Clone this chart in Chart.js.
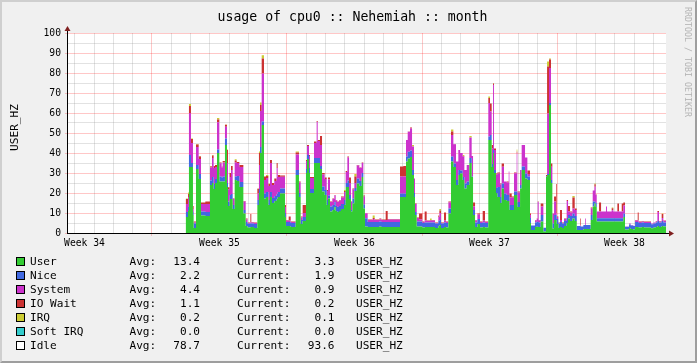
<!DOCTYPE html>
<html>
<head>
<meta charset="utf-8">
<script src="https://cdn.jsdelivr.net/npm/chart.js"></script>
<style>
  body { margin: 0; background: #f0f0f0; }
  #frame { position: relative; width: 697px; height: 363px; background: #f0f0f0; overflow: hidden; }
  #shade { position: absolute; left: 0; top: 0; width: 697px; height: 363px; box-sizing: border-box;
    border-top: 2px solid #cfcfcf; border-left: 2px solid #cfcfcf;
    border-right: 2px solid #9e9e9e; border-bottom: 2px solid #9e9e9e; }
  #chart { position: absolute; left: 0; top: 0; }
  .txt { position: absolute; font-family: "DejaVu Sans Mono", monospace; color: #000; white-space: pre; }
  .lg { font-size: 11.1px; line-height: 14px; }
  .box { position: absolute; width: 7px; height: 7px; border: 1px solid #000; }
</style>
</head>
<body>
<div id="frame">
  <div id="shade"></div>
  <canvas id="chart" width="697" height="363"></canvas>
  <div class="txt" style="left:0; width:705px; text-align:center; top:8.5px; font-size:13.2px; line-height:16px;">usage of cpu0 :: Nehemiah :: month</div>
  <div class="txt" style="left:692px; top:7px; font-size:8.3px; line-height:9px; color:#b4b4b4; transform:rotate(90deg); transform-origin:0 0;">RRDTOOL / TOBI OETIKER</div>
  <div id="legend"></div>
</div>
<script>
// time axis in hours, 0 = start of week 35
var hours = [41.9, 44.8, 46.0, 48.5, 51.0, 51.8, 54.8, 58.1, 61.0, 66.4,
  72.2, 74.7, 76.7, 78.4, 80.9, 83.8, 86.7, 87.9, 90.8, 93.3,
  94.6, 96.6, 98.3, 100.4, 102.9, 105.4, 108.7, 113.7, 116.6, 119.0,
  122.4, 123.6, 126.9, 131.1, 133.1, 134.4, 136.5, 139.4, 141.9, 144.8,
  146.8, 149.3, 152.2, 155.1, 156.4, 159.3, 165.5, 166.7, 170.1, 172.6,
  178.8, 182.9, 185.0, 187.5, 191.6, 192.9, 195.4, 196.6, 201.6, 204.9,
  206.2, 209.1, 211.6, 214.9, 217.4, 219.0, 221.5, 224.4, 226.9, 228.6,
  230.6, 232.7, 235.2, 238.9, 241.0, 243.1, 245.2, 247.6, 249.3, 251.8,
  254.7, 258.0, 260.9, 263.0, 265.1, 268.4, 274.6, 277.1, 282.9, 285.4,
  290.8, 293.3, 308.6, 312.8, 316.1, 318.2, 321.1, 323.6, 326.0, 327.3,
  329.4, 332.3, 336.4, 339.3, 341.8, 346.0, 348.0, 352.2, 356.3, 357.6,
  359.6, 363.4, 365.9, 368.8, 372.1, 375.0, 378.3, 381.2, 383.3, 386.6,
  388.7, 391.6, 394.9, 397.8, 399.5, 402.0, 404.9, 408.2, 411.5, 414.4,
  418.5, 420.6, 422.7, 424.4, 425.6, 428.1, 429.7, 433.1, 435.1, 438.0,
  441.4, 443.9, 444.7, 447.6, 450.5, 453.8, 454.6, 458.0, 460.0, 464.2,
  467.1, 470.4, 471.6, 476.6, 478.7, 479.9, 481.2, 483.7, 487.0, 490.3,
  491.6, 494.0, 496.5, 498.2, 500.3, 502.7, 503.6, 505.7, 507.7, 510.2,
  512.7, 516.0, 517.7, 520.2, 523.1, 526.0, 528.5, 532.6, 533.4, 536.8,
  538.8, 539.7, 545.9, 548.4, 550.5, 552.1, 553.4, 556.3, 558.8, 565.0,
  566.2, 572.0, 574.1, 579.1, 581.1, 584.5, 586.5, 588.6, 593.6, 595.7,
  599.0, 601.1, 604.4, 605.6, 609.4, 612.3, 621.0, 623.9, 626.8, 628.9,
  630.9, 634.2, 636.3, 639.6];

var user = [8, 11, 33, 33, 9, 2.5, 32, 27, 8.7, 8.5,
  24, 25, 22, 25, 40, 25.7, 25.7, 25.7, 44, 23,
  13.5, 17, 17, 12, 26.5, 26, 23, 9.8, 3.5, 2.8,
  3, 3, 2.5, 14, 20, 40, 54, 17.3, 18, 14,
  18, 15, 16, 17, 18, 19.8, 8, 3.5, 3.5, 3,
  29, 18, 4.5, 6, 30, 37, 30, 20, 35, 35,
  35, 32, 20.7, 19, 14, 17.3, 10.7, 11.5, 13, 11,
  10.5, 11, 12, 14, 23, 23, 17, 10.7, 14.8, 21,
  24.8, 23.5, 28, 12.3, 3.2, 3, 3, 3, 3.2, 3,
  3, 3, 18, 18, 35.7, 37.3, 38, 29, 18, 9,
  3.2, 3.2, 2.8, 3, 3, 3, 3, 2.5, 3.5, 4,
  2.5, 3, 2.8, 9.8, 35.7, 33, 24, 29, 29.8, 26.5,
  22.3, 24, 35, 28, 9, 3, 4.5, 2.8, 3, 2.8,
  46.5, 46.5, 33, 40, 30, 20, 18, 15, 22.3, 16.5,
  16, 16, 11.5, 11.5, 19, 19, 13, 22.3, 31.5, 27.3,
  26.5, 5, 1.5, 3, 3.2, 3, 3, 5.7, 0.8, 28,
  29, 64, 25, 2.3, 6.5, 6.5, 4.5, 2.5, 3, 2.5,
  3.5, 5, 7.3, 6, 7.3, 6, 1.5, 1.5, 1.5, 2,
  2, 2, 6.5, 13.2, 14.8, 13, 5.7, 5.7, 5.7, 5.7,
  5.7, 5.7, 5.7, 5.7, 5.7, 5.7, 8, 1.8, 2.5, 2,
  1.7, 3, 3, 2.8, 3, 2.8, 2.4, 2.8, 3, 3.5,
  3, 3.5, 3.3, 3.3];

var nice = [2.5, 2, 6, 2, 1.5, 2.2, 2, 2.5, 2, 2,
  2.2, 3, 2.5, 2, 1.7, 2.5, 2, 2.5, 3.3, 2,
  2.2, 2, 2.5, 2, 1.7, 2.5, 2.5, 1.7, 2, 1.8,
  1.8, 1.8, 2, 2.5, 2, 3, 1.7, 2.5, 2.5, 2.5,
  2.5, 2.5, 2.5, 2.5, 2.5, 2.5, 2, 2, 2, 2,
  2.5, 2, 2, 2, 2, 2, 2.5, 2, 2.5, 2.5,
  2.5, 1.5, 2.5, 2.5, 2.5, 1.5, 2.5, 2.5, 2.5, 2.5,
  2.5, 2.5, 2.5, 2.5, 2, 3.3, 2, 0.8, 2.5, 1.5,
  2.5, 2.5, 2, 2, 4.2, 2.5, 2.5, 2.5, 2.5, 2.5,
  2.5, 2.5, 1.7, 1.7, 2.5, 3.3, 3.3, 2.5, 2, 1.5,
  2.5, 2.5, 2.2, 2.2, 2.2, 2.2, 2.2, 2.2, 2.5, 2.5,
  2.2, 2.2, 2.2, 2.5, 2.5, 1.7, 2.5, 2.5, 1.5, 1.5,
  2.5, 1.7, 2.5, 0.3, 2.5, 2.3, 2.5, 2.2, 2.2, 2.2,
  1.7, 2.5, 1.5, 1.5, 1.5, 2.5, 5, 3, 2.5, 3.3,
  3, 3, 2.5, 2.5, 1.7, 1.7, 2.5, 1.7, 1.7, 2.5,
  1.7, 2.5, 2.2, 2.2, 2.5, 2.5, 2.3, 3.3, 1.8, 0.2,
  0.5, 1, 1.5, 2.5, 2.5, 2.5, 2.5, 2.2, 2.5, 2.2,
  2.5, 2.5, 1.7, 2.5, 2.5, 2.5, 2, 2, 1.7, 2,
  2, 2, 2.5, 2.5, 0.8, 2, 1.7, 1.7, 1.7, 1.7,
  1.7, 1.7, 1.7, 1.7, 1.7, 1.7, 1.7, 1.3, 1.8, 1.8,
  1.8, 2.5, 2.5, 2.2, 2.3, 2.2, 2, 2, 2.2, 2.5,
  2.2, 2.5, 1.9, 1.9];

var system = [4, 5, 21, 10, 1.5, 0.5, 9, 7.5, 3.8, 4,
  6.6, 9.5, 8, 6, 13.7, 6.7, 5, 7, 5.8, 10,
  6.2, 9, 12, 3, 7, 6.5, 7.5, 4.2, 1.3, 0.4,
  0.7, 0.5, 0.5, 3.3, 12, 18, 24, 6.7, 7, 7,
  14.5, 6.5, 7.5, 13, 7.5, 5.8, 3, 0.7, 0.7, 0.5,
  7.8, 5.2, 1.2, 2, 4, 4.5, 6, 5.5, 7.5, 18,
  8.5, 10.5, 6, 5.5, 4.5, 8, 2.3, 3, 3.2, 2.7,
  2.5, 2.7, 3.3, 4, 5.5, 11.4, 6, 4, 4.5, 2.5,
  6.5, 6.5, 5, 4, 2.5, 1, 1.5, 1, 1.2, 1,
  1, 1.2, 8.5, 8.5, 8.3, 10, 11, 11.7, 7.3, 4,
  1.8, 1, 0.5, 1, 0.8, 1, 1, 0.3, 2, 3.5,
  0.3, 1, 0.5, 3, 10.8, 9.7, 9.2, 10, 8.7, 10.3,
  6.7, 8.3, 10.3, 10.2, 1.7, 1, 2.3, 0.5, 1, 0.5,
  16.8, 11.8, 7.8, 32.5, 10, 6.8, 6.7, 6.3, 8.3, 5.9,
  6.2, 11.7, 3.8, 3.7, 9.2, 19.1, 4.7, 7.5, 10.8, 7.9,
  1.3, 1.5, 0, 1, 1.3, 10, 1, 4.2, 0, 0,
  30.3, 17.5, 6.6, 5, 6.7, 1, 1, 0.3, 1, 0.3,
  1, 8.5, 1.7, 1.7, 2.5, 3, 0, 0.3, 0, 0,
  3.3, 0, 3.4, 5.5, 7.5, 4, 3.3, 3.3, 3.3, 5.8,
  3.3, 4, 3.3, 3.3, 3.3, 3.3, 4, 0.1, 0.5, 0.2,
  0, 0.8, 0.7, 0.5, 0.5, 0.5, 0.3, 0.4, 0.6, 4.5,
  0.6, 1.5, 0.9, 0.9];

var iowait = [2.5, 1.5, 3.5, 2, 1.5, 0.5, 1.2, 1.2, 0.7, 1.2,
  0.5, 1.2, 1, 1, 1.3, 0.3, 0.5, 0.8, 1, 6.5,
  1, 2, 2, 0.3, 1, 0.5, 1, 0.3, 0.5, 0.2,
  4, 0.2, 0.2, 2.3, 6, 3, 7.5, 1.7, 1, 1,
  1.5, 1, 1.3, 2.5, 1, 0.6, 1, 0.3, 2, 0.2,
  0.9, 0.5, 0.5, 4, 0.5, 0.5, 0.5, 0.5, 0.7, 0.5,
  0.5, 4.5, 0.8, 0.7, 0.5, 1, 0.2, 0.3, 0.3, 0.3,
  0.2, 0.3, 0.4, 0.5, 0.5, 0.5, 2.7, 0.2, 0.5, 3.3,
  0.2, 0.2, 0.2, 0.4, 0, 0.3, 0.5, 0.3, 0.4, 0.3,
  4.5, 0.3, 5, 5.3, 0, 0.1, 0.5, 0, 0, 0.3,
  0.2, 3.1, 0.2, 4.5, 0.2, 0.3, 0.3, 0.2, 0.7, 1.2,
  0.2, 4, 0.2, 0.4, 1.7, 0.1, 0, 0, 0, 0.2,
  0, 0, 0, 0, 2, 0.2, 0.5, 0.2, 4.8, 0.2,
  2.5, 4, 1.7, 0.7, 0.8, 0.5, 0.5, 0.5, 1.7, 0,
  0.5, 0, 2, 0.5, 0.3, 1, 0.5, 0, 0, 0,
  1.7, 0.8, 0, 0.3, 0.3, 0.2, 0.2, 1.6, 0, 0.8,
  23.4, 4.2, 1.7, 0, 2.5, 14.5, 0.2, 0.2, 5, 0.2,
  0.3, 0.5, 2.8, 0.5, 5.5, 0.8, 0, 3.5, 0, 0,
  0, 0, 0.3, 0, 1.3, 0.3, 0, 4.5, 0, 0,
  0, 1, 0, 4.1, 0, 4.1, 1.5, 0, 0, 0,
  0, 0.2, 4, 0.2, 0.2, 0.2, 0.1, 0.1, 0.2, 0.5,
  0.2, 2, 0.2, 0.2];

var irq = [0.3, 0.7, 1, 0.3, 0, 0, 0.3, 0.3, 0, 0,
  0.2, 0.3, 0, 0, 0.8, 0, 0, 0, 0.2, 0.3,
  0, 0, 0, 0, 0.7, 0, 0, 0, 0, 0,
  0, 0, 0, 0.1, 0.7, 1.2, 1.7, 0, 0.5, 0.3,
  0, 0, 0, 0, 0, 0, 0, 0, 0, 0,
  0.5, 0, 0, 0, 0, 0, 0, 0, 0, 0,
  0, 0, 0, 0, 0, 0, 0, 0, 0, 0,
  0, 0, 0, 0.5, 0, 0, 0, 0, 0, 1.2,
  0, 0, 0, 0, 0, 0, 1.2, 0, 0, 0,
  0, 0, 0, 0, 0, 0, 0, 0.8, 0, 0,
  0, 0, 0, 0, 0, 0.8, 0, 0, 0, 0.8,
  0, 0, 0, 0, 1.1, 0, 0, 0, 0, 0.5,
  0, 0, 0.7, 0, 0, 0, 0, 0, 0, 0,
  0.8, 0, 0, 0.3, 0, 0, 0, 0, 0, 0,
  0, 0, 0, 0, 0, 1, 0, 0, 0, 0,
  0, 0, 0, 0, 0, 0, 0, 0, 0, 0,
  2.5, 0.6, 0, 0, 0, 0, 0, 0, 0, 0,
  0, 0, 0, 0, 0.7, 0, 0, 0, 0, 0,
  0, 0, 0, 0, 0.4, 0, 0, 0, 0, 0,
  0, 0.3, 0, 0, 0, 0, 0, 0, 0, 0,
  0, 0, 0, 0, 0, 0, 0, 0, 0, 0,
  0, 0.3, 0.1, 0.1];

var softirq = [0, 0, 0, 0, 0, 0, 0, 0, 0, 0,
  0, 0, 0, 0, 0, 0, 0, 0, 0, 0,
  0, 0, 0, 0, 0, 0, 0, 0, 0, 0,
  0, 0, 0, 0, 0, 0, 0, 0, 0, 0,
  0, 0, 0, 0, 0, 0, 0, 0, 0, 0,
  0, 0, 0, 0, 0, 0, 0, 0, 0, 0,
  0, 0, 0, 0, 0, 0, 0, 0, 0, 0,
  0, 0, 0, 0, 0, 0, 0, 0, 0, 0,
  0, 0, 0, 0, 0, 0, 0, 0, 0, 0,
  0, 0, 0, 0, 0, 0, 0, 0, 0, 0,
  0, 0, 0, 0, 0, 0, 0, 0, 0, 0,
  0, 0, 0, 0, 0, 0, 0, 0, 0, 0,
  0, 0, 0, 0, 0, 0, 0, 0, 0, 0,
  0, 0, 0, 0, 0, 0, 0, 0, 0, 0,
  0, 0, 0, 0, 0, 0, 0, 0, 0, 0,
  0, 0, 0, 0, 0, 0, 0, 0, 0, 0,
  0, 0, 0, 0, 0, 0, 0, 0, 0, 0,
  0, 0, 0, 0, 0, 0, 0, 0, 0, 0,
  0, 0, 0, 0, 0, 0, 0, 0, 0, 0,
  0, 0, 0, 0, 0, 0, 0, 0, 0, 0,
  0, 0, 0, 0, 0, 0, 0, 0, 0, 0,
  0, 0, 0, 0];

var weekLabels = ['Week 34', 'Week 35', 'Week 36', 'Week 37', 'Week 38'];
var weekLabelHours = [-84, 84, 252, 420, 588];

var legendNames = ['User', 'Nice', 'System', 'IO Wait', 'IRQ', 'Soft IRQ', 'Idle'];
var avgValues = [13.4, 2.2, 4.4, 1.1, 0.2, 0.0, 78.7];
var currentValues = [3.3, 1.9, 0.9, 0.2, 0.1, 0.0, 93.6];
var colors = ['#33cc33', '#4169e1', '#cc33cc', '#cc3333', '#cccc33', '#33cccc', '#ffffff'];

var MONO = '"DejaVu Sans Mono", monospace';
var MAJOR = 'rgba(255,0,0,0.22)';
var MINOR = 'rgba(140,140,140,0.25)';

// legend under the graph
var legend = document.getElementById('legend');
for (var i = 0; i < legendNames.length; i++) {
  var y = 254.5 + i * 14;
  var html = '';
  html += '<div class="box" style="left:16px;top:' + (257 + i * 14) + 'px;background:' + colors[i] + '"></div>';
  html += '<div class="txt lg" style="left:30px;top:' + y + 'px">' + legendNames[i] + '</div>';
  html += '<div class="txt lg" style="left:129.5px;top:' + y + 'px">Avg:</div>';
  html += '<div class="txt lg" style="left:160px;width:40px;text-align:right;top:' + y + 'px">' + avgValues[i].toFixed(1) + '</div>';
  html += '<div class="txt lg" style="left:237px;top:' + y + 'px">Current:</div>';
  html += '<div class="txt lg" style="left:294.5px;width:40px;text-align:right;top:' + y + 'px">' + currentValues[i].toFixed(1) + '</div>';
  html += '<div class="txt lg" style="left:356px;top:' + y + 'px">USER_HZ</div>';
  legend.insertAdjacentHTML('beforeend', html);
}

var series = [user, nice, system, iowait, irq, softirq];
var datasets = series.map(function(values, k) {
  return {
    label: legendNames[k],
    data: hours.map(function(h, i) { return {x: h, y: values[i]}; }),
    backgroundColor: colors[k],
    borderColor: 'transparent',
    borderWidth: 0,
    pointRadius: 0,
    stepped: true,
    fill: k === 0 ? 'origin' : '-1'
  };
});

var gridTicks = [];
for (var d = -96; d <= 624; d += 24) gridTicks.push(d);

// white canvas, black axes, the little red arrows and the unit label
var rrdFrame = {
  id: 'rrdFrame',
  beforeDraw: function(chart) {
    var ctx = chart.ctx, a = chart.chartArea;
    ctx.save();
    ctx.fillStyle = '#ffffff';
    ctx.fillRect(a.left, a.top, a.right - a.left, a.bottom - a.top);
    ctx.restore();
  },
  afterDraw: function(chart) {
    var ctx = chart.ctx, a = chart.chartArea;
    ctx.save();
    ctx.strokeStyle = '#000';
    ctx.lineWidth = 1;
    ctx.beginPath();
    ctx.moveTo(a.left - 0.5, a.bottom + 1);
    ctx.lineTo(a.left - 0.5, a.top - 3);
    ctx.moveTo(a.left - 1, a.bottom + 0.5);
    ctx.lineTo(a.right + 3, a.bottom + 0.5);
    ctx.stroke();
    ctx.fillStyle = '#7f1f1f';
    ctx.beginPath();
    ctx.moveTo(a.left - 0.5, a.top - 7);
    ctx.lineTo(a.left - 3.5, a.top - 2);
    ctx.lineTo(a.left + 2.5, a.top - 2);
    ctx.closePath();
    ctx.fill();
    ctx.beginPath();
    ctx.moveTo(a.right + 8, a.bottom + 0.5);
    ctx.lineTo(a.right + 3, a.bottom - 2.5);
    ctx.lineTo(a.right + 3, a.bottom + 3.5);
    ctx.closePath();
    ctx.fill();

    ctx.translate(14.7, 127.5);
    ctx.rotate(-Math.PI / 2);
    ctx.fillStyle = '#000';
    ctx.font = '11.1px ' + MONO;
    ctx.textAlign = 'center';
    ctx.textBaseline = 'middle';
    ctx.fillText('USER_HZ', 0, 0);
    ctx.restore();
  }
};

new Chart(document.getElementById('chart'), {
  type: 'line',
  data: { datasets: datasets },
  plugins: [rrdFrame],
  options: {
    responsive: false,
    animation: false,
    events: [],
    layout: { padding: { left: 0, right: 31, top: 33, bottom: 110 } },
    plugins: { legend: { display: false }, tooltip: { enabled: false } },
    scales: {
      x: {
        type: 'linear',
        min: -104.5,
        max: 639.6,
        afterBuildTicks: function(s) {
          s.ticks = gridTicks.concat(weekLabelHours).sort(function(a, b) { return a - b; })
            .map(function(v) { return {value: v}; });
        },
        afterFit: function(s) { s.height = 20; },
        border: { display: false },
        grid: {
          drawTicks: true,
          tickLength: 3,
          color: function(c) {
            var v = c.tick ? c.tick.value : 1;
            if (v % 24 !== 0) return 'transparent';
            return v % 168 === 0 ? MAJOR : MINOR;
          },
          tickColor: function(c) {
            var v = c.tick ? c.tick.value : 1;
            return v % 168 === 0 ? MAJOR : 'transparent';
          }
        },
        ticks: {
          autoSkip: false,
          maxRotation: 0,
          padding: 2,
          color: '#000',
          font: { family: MONO, size: 9.7 },
          callback: function(v) {
            var k = weekLabelHours.indexOf(v);
            return k >= 0 ? weekLabels[k] : '';
          }
        }
      },
      y: {
        stacked: true,
        min: 0,
        max: 100,
        afterFit: function(s) { s.width = 68; },
        border: { display: false },
        grid: {
          drawTicks: true,
          tickLength: 3,
          color: function(c) { return c.tick && c.tick.value % 10 === 0 ? MAJOR : MINOR; },
          tickColor: function(c) { return c.tick && c.tick.value % 10 === 0 ? MAJOR : 'transparent'; }
        },
        ticks: {
          stepSize: 5,
          autoSkip: false,
          padding: 4,
          color: '#000',
          font: { family: MONO, size: 9.7 },
          callback: function(v) { return v % 10 === 0 ? String(v) : ''; }
        }
      }
    }
  }
});
</script>
</body>
</html>
